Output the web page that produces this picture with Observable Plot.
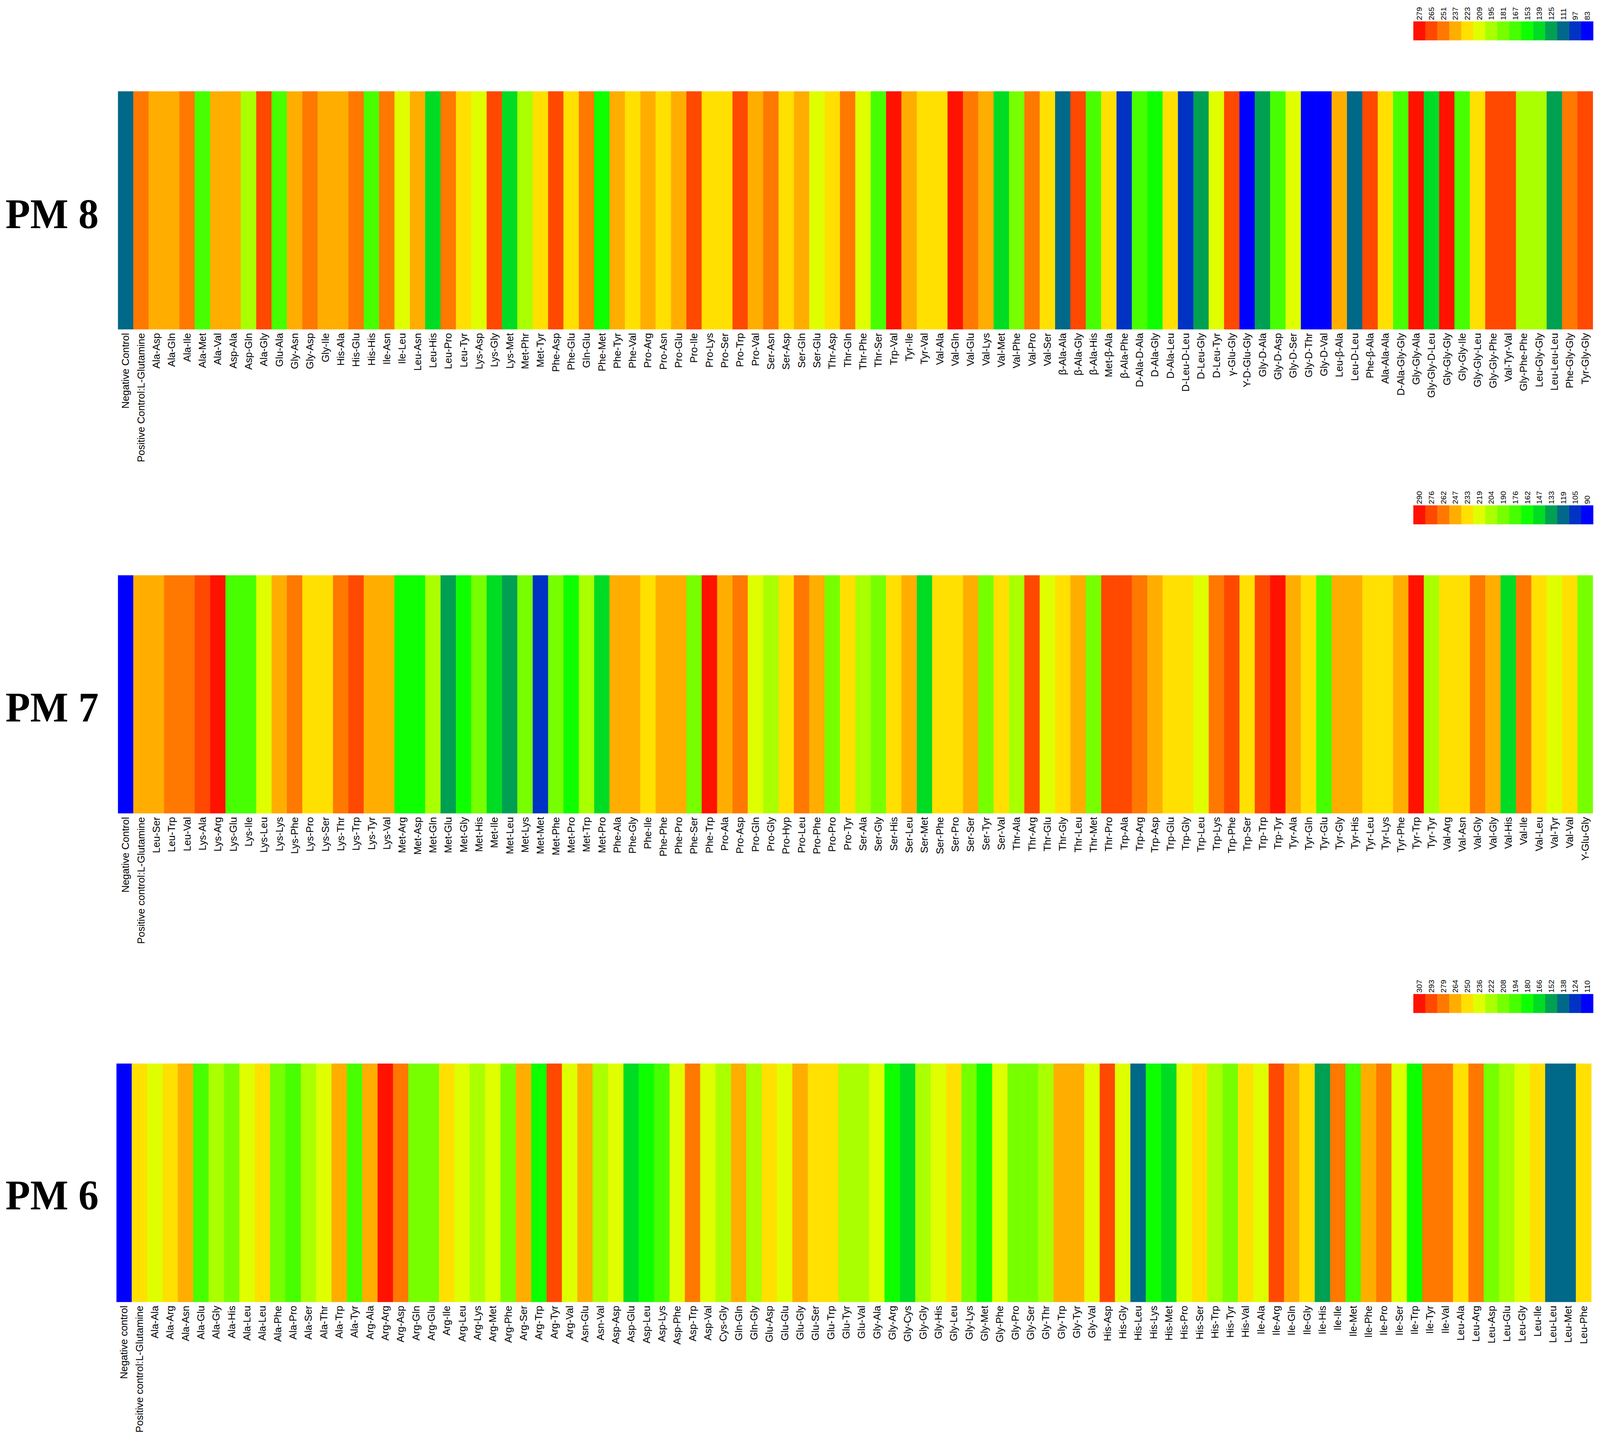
<!DOCTYPE html>
<html>
<head>
<meta charset="utf-8">
<script src="https://cdn.jsdelivr.net/npm/d3@7"></script>
<script src="https://cdn.jsdelivr.net/npm/@observablehq/plot@0.6"></script>
<style>
  html, body { margin: 0; padding: 0; background: #fff; overflow: hidden; }
  #root { position: relative; width: 4270px; height: 3689px; background: #fff; overflow: hidden; transform-origin: 0 0; }
  #root > svg { position: absolute; }
</style>
</head>
<body>
<div id="root"></div>
<script>
// 15-step colour key (high -> low)
const palette = ["#ff1200","#ff4800","#ff7800","#ffae00","#ffe000","#dfff00","#aaff00","#77ff00","#47ff00","#0eff00","#00dc24","#00a053","#006888","#0032c4","#0000ff"];

// ---------- PM 8 ----------
const pm8Ticks = [279,265,251,237,223,209,195,181,167,153,139,125,111,97,83];
const pm8Labels = ["Negative Control","Positive Control:L-Glutamine","Ala-Asp","Ala-Gln","Ala-Ile","Ala-Met","Ala-Val","Asp-Ala","Asp-Gln","Ala-Gly","Glu-Ala","Gly-Asn","Gly-Asp","Gly-Ile","His-Ala","His-Glu","His-His","Ile-Asn","Ile-Leu","Leu-Asn","Leu-His","Leu-Pro","Leu-Tyr","Lys-Asp","Lys-Gly","Lys-Met","Met-Phr","Met-Tyr","Phe-Asp","Phe-Glu","Gln-Glu","Phe-Met","Phe-Tyr","Phe-Val","Pro-Arg","Pro-Asn","Pro-Glu","Pro-Ile","Pro-Lys","Pro-Ser","Pro-Trp","Pro-Val","Ser-Asn","Ser-Asp","Ser-Gln","Ser-Glu","Thr-Asp","Thr-Gln","Thr-Phe","Thr-Ser","Trp-Val","Tyr-Ile","Tyr-Val","Val-Ala","Val-Gln","Val-Glu","Val-Lys","Val-Met","Val-Phe","Val-Pro","Val-Ser","β-Ala-Ala","β-Ala-Gly","β-Ala-His","Met-β-Ala","β-Ala-Phe","D-Ala-D-Ala","D-Ala-Gly","D-Ala-Leu","D-Leu-D-Leu","D-Leu-Gly","D-Leu-Tyr","γ-Glu-Gly","Y-D-Glu-Gly","Gly-D-Ala","Gly-D-Asp","Gly-D-Ser","Gly-D-Thr","Gly-D-Val","Leu-β-Ala","Leu-D-Leu","Phe-β-Ala","Ala-Ala-Ala","D-Ala-Gly-Gly","Gly-Gly-Ala","Gly-Gly-D-Leu","Gly-Gly-Gly","Gly-Gly-Ile","Gly-Gly-Leu","Gly-Gly-Phe","Val-Tyr-Val","Gly-Phe-Phe","Leu-Gly-Gly","Leu-Leu-Leu","Phe-Gly-Gly","Tyr-Gly-Gly"];
const pm8Values = [111,251,237,237,251,167,237,237,195,265,167,237,251,237,237,251,167,251,209,237,139,251,223,209,265,139,195,223,265,223,251,153,237,223,237,223,237,265,223,223,265,237,251,223,237,209,223,251,209,167,279,237,223,223,279,251,237,139,181,251,223,111,265,167,223,97,167,153,223,97,125,209,265,83,125,167,209,83,83,237,111,265,223,167,279,139,279,167,223,265,265,195,195,125,251,265];

// ---------- PM 7 ----------
const pm7Ticks = [290,276,262,247,233,219,204,190,176,162,147,133,119,105,90];
const pm7Labels = ["Negative Control","Positive control:L-Glutamine","Leu-Ser","Leu-Trp","Leu-Val","Lys-Ala","Lys-Arg","Lys-Glu","Lys-Ile","Lys-Leu","Lys-Lys","Lys-Phe","Lys-Pro","Lys-Ser","Lys-Thr","Lys-Trp","Lys-Tyr","Lys-Val","Met-Arg","Met-Asp","Met-Gln","Met-Glu","Met-Gly","Met-His","Met-Ile","Met-Leu","Met-Lys","Met-Met","Met-Phe","Met-Pro","Met-Trp","Met-Pro","Phe-Ala","Phe-Gly","Phe-Ile","Phe-Phe","Phe-Pro","Phe-Ser","Phe-Trp","Pro-Ala","Pro-Asp","Pro-Gln","Pro-Gly","Pro-Hyp","Pro-Leu","Pro-Phe","Pro-Pro","Pro-Tyr","Ser-Ala","Ser-Gly","Ser-His","Ser-Leu","Ser-Met","Ser-Phe","Ser-Pro","Ser-Ser","Ser-Tyr","Ser-Val","Thr-Ala","Thr-Arg","Thr-Glu","Thr-Gly","Thr-Leu","Thr-Met","Thr-Pro","Trp-Ala","Trp-Arg","Trp-Asp","Trp-Glu","Trp-Gly","Trp-Leu","Trp-Lys","Trp-Phe","Trp-Ser","Trp-Trp","Trp-Tyr","Tyr-Ala","Tyr-Gln","Tyr-Glu","Tyr-Gly","Tyr-His","Tyr-Leu","Tyr-Lys","Tyr-Phe","Tyr-Trp","Tyr-Tyr","Val-Arg","Val-Asn","Val-Gly","Val-Gly","Val-His","Val-Ile","Val-Leu","Val-Tyr","Val-Val","Y-Glu-Gly"];
const pm7Values = [90,247,247,262,262,276,290,176,176,219,247,262,233,233,262,276,247,247,162,162,204,133,162,190,147,133,190,105,190,162,204,147,247,247,233,247,247,190,290,247,262,219,204,233,262,247,190,233,204,190,233,247,147,233,233,247,190,233,204,276,219,233,247,190,276,276,262,247,233,233,219,262,276,233,276,290,247,233,176,247,247,233,233,247,290,204,233,233,262,247,147,262,233,219,233,190];

// ---------- PM 6 ----------
const pm6Ticks = [307,293,279,264,250,236,222,208,194,180,166,152,138,124,110];
const pm6Labels = ["Negative control","Positive control:L-Glutamine","Ala-Ala","Ala-Arg","Ala-Asn","Ala-Glu","Ala-Gly","Ala-His","Ala-Leu","Ala-Leu","Ala-Phe","Ala-Pro","Ala-Ser","Ala-Thr","Ala-Trp","Ala-Tyr","Arg-Ala","Arg-Arg","Arg-Asp","Arg-Gln","Arg-Glu","Arg-Ile","Arg-Leu","Arg-Lys","Arg-Met","Arg-Phe","Arg-Ser","Arg-Trp","Arg-Tyr","Arg-Val","Asn-Glu","Asn-Val","Asp-Asp","Asp-Glu","Asp-Leu","Asp-Lys","Asp-Phe","Asp-Trp","Asp-Val","Cys-Gly","Gln-Gln","Gln-Gly","Glu-Asp","Glu-Glu","Glu-Gly","Glu-Ser","Glu-Trp","Glu-Tyr","Glu-Val","Gly-Ala","Gly-Arg","Gly-Cys","Gly-Gly","Gly-His","Gly-Leu","Gly-Lys","Gly-Met","Gly-Phe","Gly-Pro","Gly-Ser","Gly-Thr","Gly-Trp","Gly-Tyr","Gly-Val","His-Asp","His-Gly","His-Leu","His-Lys","His-Met","His-Pro","His-Ser","His-Trp","His-Tyr","His-Val","Ile-Ala","Ile-Arg","Ile-Gln","Ile-Gly","Ile-His","Ile-Ile","Ile-Met","Ile-Phe","Ile-Pro","Ile-Ser","Ile-Trp","Ile-Tyr","Ile-Val","Leu-Ala","Leu-Arg","Leu-Asp","Leu-Glu","Leu-Gly","Leu-Ile","Leu-Leu","Leu-Met","Leu-Phe"];
const pm6Values = [110,250,236,250,264,194,222,208,236,250,208,194,222,236,264,194,264,307,279,208,208,250,236,222,236,208,264,180,293,236,264,222,236,166,180,194,236,279,236,222,264,222,250,236,264,250,250,222,222,236,180,166,222,236,250,208,180,236,208,208,222,264,264,236,293,236,138,180,166,236,250,222,208,250,236,293,264,250,152,279,194,264,279,236,180,279,279,250,279,208,222,236,250,138,138,250];

const panels = [
  {title: "PM 8", labels: pm8Labels, values: pm8Values, ticks: pm8Ticks, left: 313, top: 234, h: 609, legendTop: 55, titleDy: 10},
  {title: "PM 7", labels: pm7Labels, values: pm7Values, ticks: pm7Ticks, left: 313, top: 1473, h: 609, legendTop: 1294, titleDy: 34},
  {title: "PM 6", labels: pm6Labels, values: pm6Values, ticks: pm6Ticks, left: 306, top: 2723, h: 610, legendTop: 2545, titleDy: 33}
];

const root = document.getElementById("root");
const W = 4270, H = 3689;
const RIGHT = 4252;
const sans = "'Liberation Sans', Arial, Helvetica, sans-serif";

// make the 4270x3689 drawing fill exactly the visible viewport
function fit() {
  const vw = document.documentElement.clientWidth || window.innerWidth;
  const vh = document.documentElement.clientHeight || window.innerHeight;
  const sx = vw / W, sy = vh / H;
  root.style.transform = (Math.abs(sx - 1) < 1e-3 && Math.abs(sy - 1) < 1e-3) ? "none" : `scale(${sx}, ${sy})`;
}

for (const p of panels) {
  const data = p.values.map((v, i) => ({i, v}));
  const mb = 360;
  const hm = Plot.plot({
    width: W,
    height: p.h + mb,
    marginLeft: p.left,
    marginRight: W - RIGHT,
    marginTop: 0,
    marginBottom: mb,
    style: {fontFamily: sans, background: "transparent", color: "#000", overflow: "visible", maxWidth: "none"},
    x: {type: "band", domain: d3.range(p.values.length), padding: 0, axis: null},
    color: {type: "ordinal", domain: p.ticks, range: palette},
    marks: [
      Plot.cell(data, {x: "i", fill: "v", stroke: "v", strokeWidth: 0.6}),
      Plot.axisX({anchor: "bottom", tickFormat: i => p.labels[i], tickRotate: -90, tickSize: 0, tickPadding: 9, fontSize: 26, label: null, fill: "#000"}),
      Plot.text([p.title], {frameAnchor: "left", dx: -(p.left - 14), dy: p.titleDy, textAnchor: "start", lineAnchor: "middle", fontSize: 108, fontWeight: "bold", fontFamily: "'Liberation Serif', 'Times New Roman', serif", fill: "#000"})
    ]
  });
  hm.style.left = "0px";
  hm.style.top = p.top + "px";
  root.appendChild(hm);

  const lm = 20, lt = 60, lw = 483, lh = 48;
  const legend = Plot.plot({
    width: lw + 2 * lm,
    height: lt + lh,
    marginLeft: lm,
    marginRight: lm,
    marginTop: lt,
    marginBottom: 0,
    style: {fontFamily: sans, background: "transparent", color: "#000", overflow: "visible", maxWidth: "none"},
    x: {type: "band", domain: d3.range(p.ticks.length), padding: 0, axis: null},
    color: {type: "ordinal", domain: p.ticks, range: palette},
    marks: [
      Plot.cell(p.ticks.map((t, i) => ({i, t})), {x: "i", fill: "t", stroke: "t", strokeWidth: 0.6}),
      Plot.axisX({anchor: "top", tickFormat: i => p.ticks[i], tickRotate: -90, tickSize: 0, tickPadding: 4, fontSize: 20, label: null, fill: "#000"})
    ]
  });
  legend.style.left = (3770 - lm) + "px";
  legend.style.top = (p.legendTop - lt) + "px";
  root.appendChild(legend);
}
fit();
window.addEventListener("resize", fit);
</script>
</body>
</html>
